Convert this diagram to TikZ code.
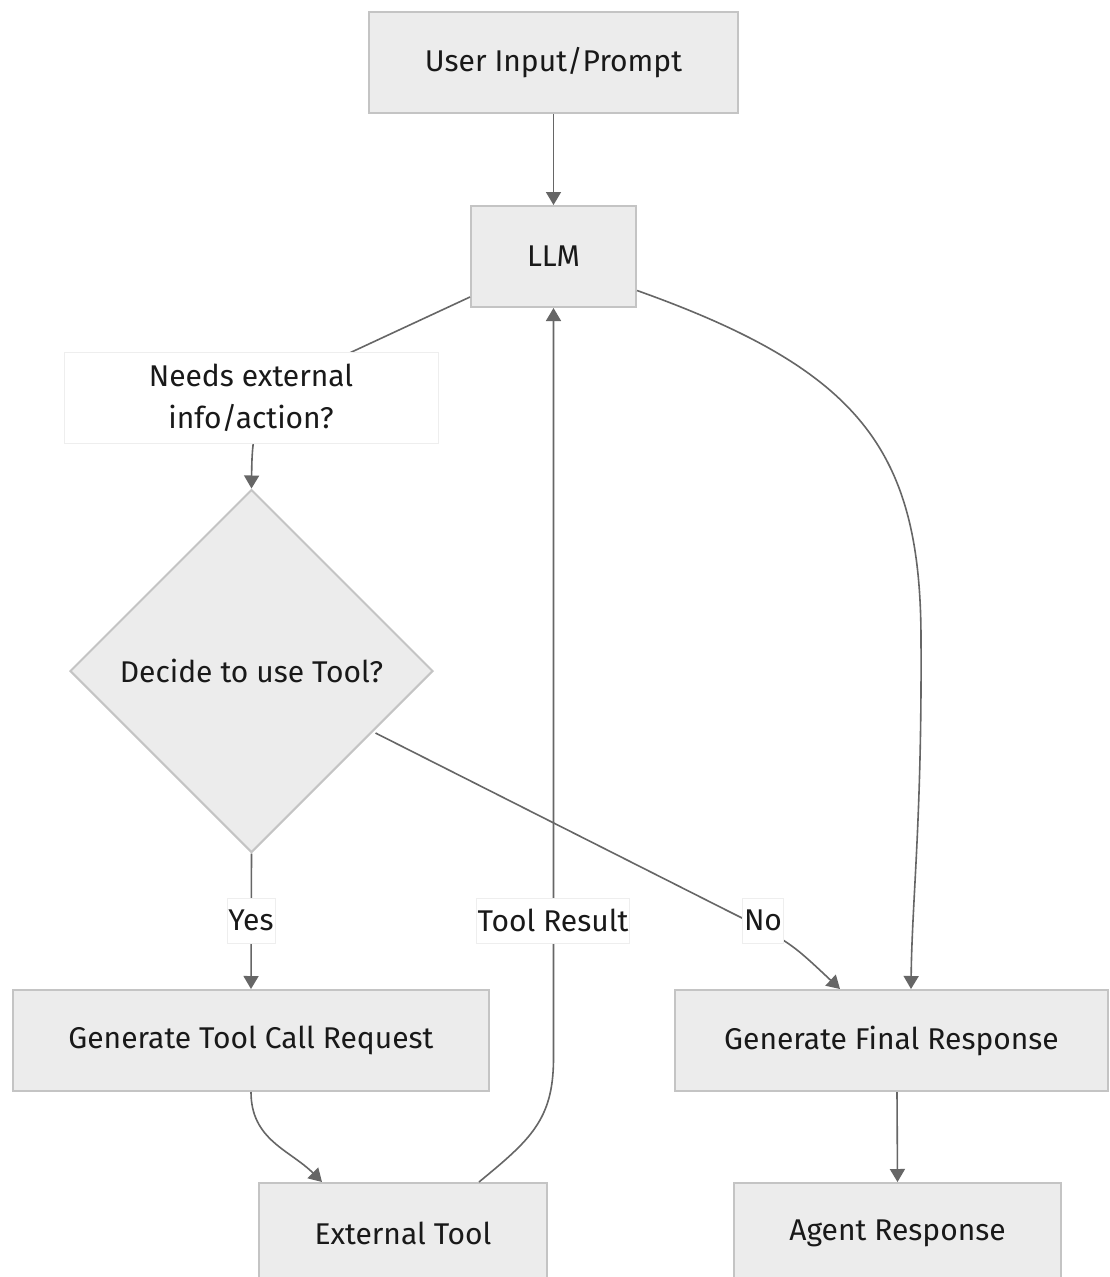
\documentclass[tikz,border=0pt]{standalone}
\usepackage{fontspec}
\setmainfont{Fira Sans}
\usetikzlibrary{shapes.geometric,arrows.meta,calc}
\definecolor{boxfill}{HTML}{ECECEC}
\definecolor{boxline}{HTML}{C4C4C4}
\definecolor{edgecol}{HTML}{666666}
\definecolor{lblline}{HTML}{EEEEEE}
\tikzset{
  stepbox/.style={draw=boxline, line width=2pt, fill=boxfill, inner sep=0pt,
    text=black!90, font=\fontsize{30}{34}\selectfont, align=center},
  decision/.style={diamond, draw=boxline, line width=2pt, fill=boxfill, inner sep=0pt,
    minimum width=363pt, minimum height=363pt, aspect=1,
    text=black!90, font=\fontsize{30}{34}\selectfont},
  edgelabel/.style={fill=white, draw=lblline, line width=0.8pt, inner xsep=1.5pt, inner ysep=0pt,
    text=black!90, font=\fontsize{30}{34}\selectfont, align=center},
  flow/.style={draw=edgecol, line width=1.6pt},
  arrowed/.style={flow, -{Triangle[length=13pt,width=15pt]}},
}
\begin{document}
\begin{tikzpicture}[x=1pt,y=-1pt]
\useasboundingbox (0,0) rectangle (1110,1277);
\fill[white] (0,0) rectangle (1110,1277);

% process boxes
\node[stepbox, minimum width=369pt, minimum height=101pt] (user) at (553.5,62.5) {User Input/Prompt};
\node[stepbox, minimum width=165pt, minimum height=101pt] (llm) at (553.5,256.5) {LLM};
\node[decision] (decide) at (251.5,671) {Decide to use Tool?};
\node[stepbox, minimum width=476pt, minimum height=101pt] (gentool) at (251,1040.5) {Generate Tool Call Request};
\node[stepbox, minimum width=433pt, minimum height=101pt] (genfinal) at (891.5,1040.5) {Generate Final Response};
\node[stepbox, minimum width=288pt, minimum height=101pt] (exttool) at (403,1233.5) {External Tool};
\node[stepbox, minimum width=327pt, minimum height=101pt] (agent) at (897.5,1233.5) {Agent Response};

% connectors
\draw[arrowed] (user.south) -- (llm.north);
\draw[arrowed] ($(llm.south west)+(0,-11)$) -- (300,376)
  .. controls (253,398) and (252,440) .. (decide.north);
\draw[arrowed] ($(llm.east)+(0,34)$) .. controls (860,370) and (921,450) .. (921,640)
  .. controls (922,820) and (912,900) .. ($(genfinal.north)+(19.5,0)$);
\draw[arrowed] (decide.south) -- (gentool.north);
\draw[arrowed] ($(decide.center)+(124,62)$) -- (730,912)
  .. controls (790,942) .. ($(genfinal.north west)+(166,0)$);
\draw[arrowed] (gentool.south) .. controls (251,1140) and (290,1150) .. ($(exttool.north west)+(64,0)$);
\draw[arrowed] ($(exttool.north west)+(221,0)$) .. controls (530,1140) and (553,1120) .. (553.5,1060)
  -- (llm.south);
\draw[arrowed] ($(genfinal.south)+(5.5,0)$) -- (agent.north);

% connector labels
\node[edgelabel, minimum width=374pt, minimum height=91pt] (needs) at (251,397.5)
  {Needs external\\[8pt]info/action?};
\node[edgelabel, minimum height=45pt] (yes) at (251,920.5) {Yes};
\node[edgelabel, minimum height=45pt] (result) at (553,920.5) {Tool Result};
\node[edgelabel, minimum height=45pt] (no) at (763,920.5) {No};
\end{tikzpicture}
\end{document}
